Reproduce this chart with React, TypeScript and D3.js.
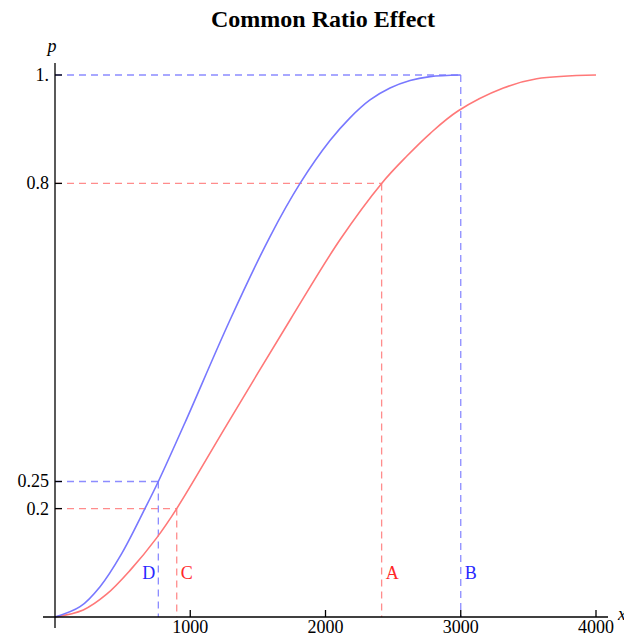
import React from 'react';
import * as d3 from 'd3';

// values
const blueCurve: [number, number][] = [
  [0, 0], [185, 0.019], [333, 0.056], [493, 0.117], [665, 0.2], [764, 0.25],
  [960, 0.358], [1294, 0.548], [1590, 0.702], [1812, 0.8], [2033, 0.879],
  [2181, 0.921], [2329, 0.954], [2477, 0.976], [2625, 0.99], [2773, 0.997], [3000, 1],
];

const redCurve: [number, number][] = [
  [0, 0], [209, 0.013], [382, 0.042], [555, 0.086], [752, 0.146], [900, 0.2],
  [1269, 0.354], [1738, 0.548], [2107, 0.696], [2415, 0.8], [2600, 0.85],
  [2773, 0.892], [2982, 0.934], [3315, 0.976], [3562, 0.993], [4000, 1],
];

// reference points: label, x, p, series colour
const markNames = ['A', 'B', 'C', 'D'];
const markX = [2415, 3000, 900, 764];
const markP = [0.8, 1, 0.2, 0.25];
const markSeries = ['red', 'blue', 'red', 'blue'];

const xTicks = [1000, 2000, 3000, 4000];
const yTicks = [1, 0.8, 0.25, 0.2];
const yTickLabels = ['1.', '0.8', '0.25', '0.2'];

const W = 624;
const H = 637;

const colors: Record<string, { line: string; dash: string; text: string }> = {
  blue: { line: '#7878ff', dash: '#8c8cff', text: '#2828ff' },
  red: { line: '#ff7878', dash: '#ff8c8c', text: '#ff2828' },
};

const serif = '"Liberation Serif", "Times New Roman", serif';

export default function App() {
  const x = d3.scaleLinear().domain([0, 4000]).range([55, 596]);
  const y = d3.scaleLinear().domain([0, 1]).range([617, 75]);

  const line = d3.line<[number, number]>()
    .x(d => x(d[0]))
    .y(d => y(d[1]))
    .curve(d3.curveCatmullRom.alpha(0.5));

  const x0 = x(0);
  const y0 = y(0);

  return (
    <svg width={W} height={H} style={{ position: 'absolute', left: 0, top: 0, background: '#fff' }}
      fontFamily={serif}>
      <text x={323} y={27} textAnchor="middle" fontSize={24} fontWeight="bold">Common Ratio Effect</text>

      {/* dashed guide lines */}
      {markNames.map((n, i) => {
        const c = colors[markSeries[i]];
        return (
          <g key={'g' + n} stroke={c.dash} strokeWidth={1.3} strokeDasharray="7,5" fill="none">
            <line x1={x0} x2={x(markX[i])} y1={y(markP[i])} y2={y(markP[i])} />
            <line x1={x(markX[i])} x2={x(markX[i])} y1={y(markP[i])} y2={y0} />
          </g>
        );
      })}

      <path d={line(redCurve) || ''} fill="none" stroke={colors.red.line} strokeWidth={1.6} />
      <path d={line(blueCurve) || ''} fill="none" stroke={colors.blue.line} strokeWidth={1.6} />

      {/* letters */}
      {markNames.map((n, i) => {
        const left = n === 'D';
        return (
          <text key={'t' + n} x={x(markX[i]) + (left ? -3 : 4)} y={579}
            textAnchor={left ? 'end' : 'start'} fontSize={18} fill={colors[markSeries[i]].text}>{n}</text>
        );
      })}

      {/* axes */}
      <g stroke="#000" strokeWidth={1.3}>
        <line x1={x0} x2={x0} y1={63} y2={628} />
        <line x1={43} x2={608} y1={y0} y2={y0} />
        {xTicks.map(t => <line key={'xt' + t} x1={x(t)} x2={x(t)} y1={y0} y2={y0 - 7} />)}
        {yTicks.map(t => <line key={'yt' + t} x1={x0} x2={x0 + 7} y1={y(t)} y2={y(t)} />)}
      </g>
      {xTicks.map(t => (
        <text key={'xl' + t} x={x(t)} y={633} textAnchor="middle" fontSize={18}>{t}</text>
      ))}
      {yTicks.map((t, i) => (
        <text key={'yl' + t} x={49} y={y(t)} dy="0.33em" textAnchor="end" fontSize={18}>{yTickLabels[i]}</text>
      ))}
      <text x={52} y={52} textAnchor="middle" fontSize={18} fontStyle="italic">p</text>
      <text x={618} y={620} fontSize={18} fontStyle="italic">x</text>
    </svg>
  );
}
